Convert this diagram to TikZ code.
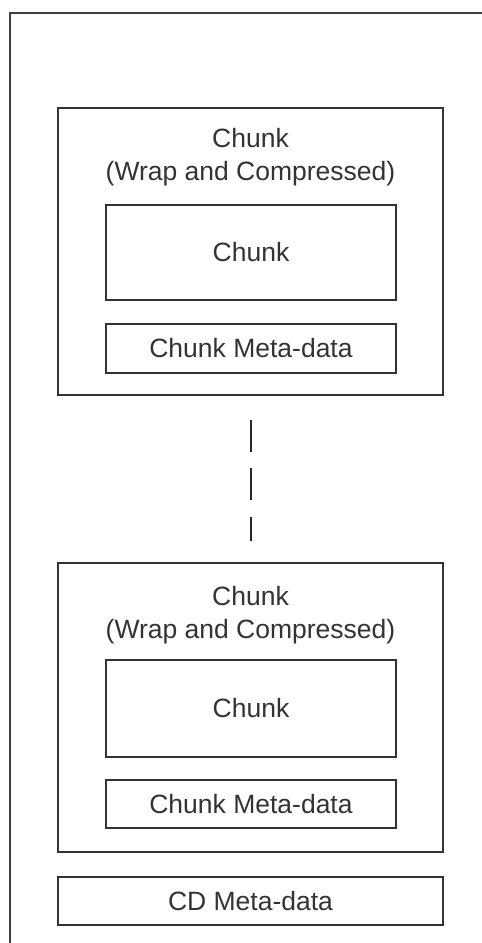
\documentclass[tikz,border=0pt]{standalone}
\usepackage{fontspec}
\setmainfont{Liberation Sans}
\begin{document}
\begin{tikzpicture}[x=1pt,y=-1pt,
  box/.style={draw=black!80, line width=1.4pt, rectangle, inner sep=0pt, fill=none},
  lbl/.style={text=black!80, font=\fontsize{26.5}{33}\selectfont, align=center, inner sep=0pt},
  gapline/.style={draw=black!85, line width=1.6pt}]
\useasboundingbox (0,0) rectangle (482,943);
\clip (0,0) rectangle (482,943);
% open outer frame (runs off the right and bottom edges)
\draw[draw=black!75, line width=2pt] (10,960) -- (10,13) -- (500,13);

% first wrapped chunk
\node[box, minimum width=385pt, minimum height=287pt] (wrapA) at (250.5,251.5) {};
\node[lbl] (titleA) at (250.5,157) {Chunk\\(Wrap and Compressed)};
\node[box, minimum width=290pt, minimum height=95pt] (chunkA) at (251,252.5) {};
\node[lbl] (chunkAtxt) at (chunkA.center) {Chunk};
\node[box, minimum width=290pt, minimum height=49pt] (metaA) at (251,348.5) {};
\node[lbl] (metaAtxt) at (metaA.center) {Chunk Meta-data};

% second wrapped chunk
\node[box, minimum width=385pt, minimum height=289pt] (wrapB) at (250.5,707.5) {};
\node[lbl] (titleB) at (250.5,615) {Chunk\\(Wrap and Compressed)};
\node[box, minimum width=290pt, minimum height=97pt] (chunkB) at (251,708.5) {};
\node[lbl] (chunkBtxt) at (chunkB.center) {Chunk};
\node[box, minimum width=290pt, minimum height=48pt] (metaB) at (251,804) {};
\node[lbl] (metaBtxt) at (metaB.center) {Chunk Meta-data};

% CD meta-data
\node[box, minimum width=385pt, minimum height=48pt] (cdmeta) at (250.5,901) {};
\node[lbl] (cdtxt) at (cdmeta.center) {CD Meta-data};

% broken line standing for the chunks in between
\draw[gapline, dash pattern=on 0pt off 24pt on 32pt off 16pt on 32pt off 17pt on 24pt off 40pt]
  (wrapA.south -| 251,0) -- (wrapB.north -| 251,0);
\end{tikzpicture}
\end{document}
